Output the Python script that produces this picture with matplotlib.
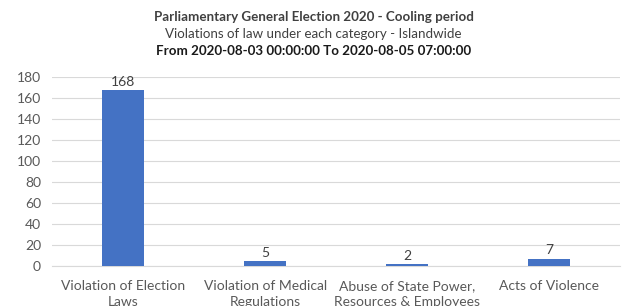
"""Violations of law by category - cooling period, PGE 2020."""

import matplotlib
import matplotlib.pyplot as plt

matplotlib.use("Agg")

categories = [
    "Violation of Election\nLaws",
    "Violation of Medical\nRegulations",
    "Abuse of State Power,\nResources & Employees",
    "Acts of Violence",
]
counts = [168, 5, 2, 7]
yticks = [0, 20, 40, 60, 80, 100, 120, 140, 160, 180]

plt.rcParams["font.family"] = ["Lato", "DejaVu Sans"]

fig = plt.figure(figsize=(6.27, 3.06), dpi=100)
ax = fig.add_axes([0.083, 0.131, 0.906, 0.617])

x = range(len(categories))
ax.bar(x, counts, width=0.3, color="#4472C4", zorder=3)
for xi, v in zip(x, counts):
    ax.text(xi, v + 2, str(v), ha="center", va="bottom", fontsize=10, color="#404040")

ax.set_xlim(-0.5, len(categories) - 0.5)
ax.set_ylim(0, 180)
ax.set_yticks(yticks)
ax.set_xticks(list(x))
ax.set_xticklabels(categories, fontsize=10, color="#595959", linespacing=1.45)
ax.tick_params(axis="y", labelsize=10, labelcolor="#595959", length=0, pad=8)
ax.tick_params(axis="x", length=0, pad=10)
ax.grid(axis="y", color="#D9D9D9", linewidth=0.8, zorder=0)
for side in ["top", "right", "left"]:
    ax.spines[side].set_visible(False)
ax.spines["bottom"].set_color("#D9D9D9")

fig.text(0.5, 0.945, "Parliamentary General Election 2020 - Cooling period",
         ha="center", va="center", fontsize=9.6, fontweight="bold", color="#404040")
fig.text(0.5, 0.889, "Violations of law under each category - Islandwide",
         ha="center", va="center", fontsize=9.6, color="#404040")
fig.text(0.5, 0.833, "From 2020-08-03 00:00:00 To 2020-08-05 07:00:00",
         ha="center", va="center", fontsize=9.6, fontweight="bold", color="#1a1a1a")

fig.savefig("out.png", dpi=100)
plt.close(fig)
